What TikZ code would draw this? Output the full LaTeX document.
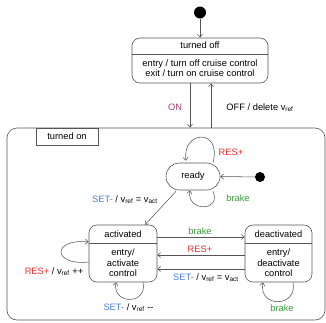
\documentclass[tikz,border=0pt]{standalone}
\usepackage{fontspec}
\setmainfont{Liberation Sans}
\usetikzlibrary{arrows.meta}
\definecolor{lineg}{HTML}{555555}
\definecolor{setblue}{HTML}{4A7FE6}
\definecolor{resred}{HTML}{F02828}
\definecolor{brakegreen}{HTML}{3A9A3A}
\definecolor{onpurple}{HTML}{A0407A}
\newcommand{\vsub}[1]{v\textsubscript{#1}}
\tikzset{
  every node/.style={font=\fontsize{9.3}{10.5}\selectfont, inner sep=0pt},
  statebox/.style={draw=lineg, line width=0.6pt, rounded corners=8pt, minimum width=#1},
  lbl/.style={text=black},
  arr/.style={draw=lineg, line width=0.55pt, -{Straight Barb[length=3pt,width=5pt]}},
  dot/.style={circle, fill=black, draw=none},
  divline/.style={draw=lineg, line width=0.6pt},
}
\begin{document}
\begin{tikzpicture}[x=1pt,y=-1pt]
\useasboundingbox (0,0) rectangle (326,322);
% initial
\node[dot, minimum size=12pt] (init1) at (200,12.5) {};
% turned off
\node[statebox=136pt, minimum height=45pt] (off) at (200,60.5) {};
\node (offtitle) at (200,45.5) {turned off};
\draw[divline] (off.west |- 0,54) -- (off.east |- 0,54);
\node (offbody) at (200,68) [align=center] {entry / turn off cruise control\\exit / turn on cruise control};
\draw[arr] (init1) -- (off.north);
% turned on
\node[draw=lineg, line width=0.6pt, rounded corners=10pt, minimum width=318pt, minimum height=192pt] (on) at (166,224) {};
\node[draw=lineg, line width=0.6pt, minimum width=62pt, minimum height=17pt] (tab) at (67,136.5) {turned on};
% ON / OFF
\draw[arr] ([xshift=-10pt]off.south) -- ([xshift=-10pt]off.south |- on.north);
\draw[arr] ([xshift=11pt]off.south |- on.north) -- ([xshift=11pt]off.south);
\node[text=onpurple] (onlbl) at (175,107.5) {ON};
\node (offlbl) at (260,107.5) {OFF / delete \vsub{ref}};
% ready
\node[draw=lineg, line width=0.6pt, rounded corners=13.5pt, minimum width=54pt, minimum height=27pt] (ready) at (193,176.5) {ready};
\node[dot, minimum size=10pt] (init2) at (260,177) {};
\draw[arr] (init2) -- (ready.east);
\draw[arr] ([xshift=20pt]ready.north) .. controls (222,128) and (182,130) .. ([xshift=-7pt,yshift=2pt]ready.north);
\node[text=resred] (rlbl1) at (231,152) {RES+};
\draw[arr] ([xshift=20pt,yshift=-1pt]ready.south) .. controls (222,212) and (186,212) .. ([xshift=-3pt]ready.south);
\node[text=brakegreen] (blbl1) at (238,198.5) {brake};
% activated
\node[statebox=68pt, minimum height=57pt] (act) at (123,253.5) {};
\node (acttitle) at (123,234.5) {activated};
\draw[divline] (act.west |- 0,243) -- (act.east |- 0,243);
\node[align=center] (actbody) at (123,263) {entry/\\activate\\control};
% deactivated
\node[statebox=67pt, minimum height=57pt] (deact) at (278.5,253.5) {};
\node (deacttitle) at (278.5,234.5) {deactivated};
\draw[divline] (deact.west |- 0,243) -- (deact.east |- 0,243);
\node[align=center] (deactbody) at (278.5,263) {entry/\\deactivate\\control};
% ready -> activated
\draw[arr] ([xshift=-17pt,yshift=-1pt]ready.south) -- ([xshift=22pt]act.north);
\node (setlbl1) at (125,199.5) {\textcolor{setblue}{SET-} / \vsub{ref} = \vsub{act}};
% between activated and deactivated
\draw[arr] (act.east |- 0,237) -- (deact.west |- 0,237);
\node[text=brakegreen] (blbl2) at (200,231) {brake};
\draw[arr] (deact.west |- 0,255) -- (act.east |- 0,255);
\node[text=resred] (rlbl2) at (200,249.5) {RES+};
\draw[arr] (deact.west |- 0,269) -- (act.east |- 0,269);
\node (setlbl2) at (206,277.5) {\textcolor{setblue}{SET-} / \vsub{ref} = \vsub{act}};
% activated self loops
\draw[arr] (act.west |- 0,262) .. controls (52,266) and (52,238) .. (act.west |- 0,242);
\node (rlbl3) at (54,271.5) {\textcolor{resred}{RES+} / \vsub{ref} ++};
\draw[arr] ([xshift=20pt]act.south) .. controls (148,305) and (112,305) .. ([xshift=-7pt]act.south);
\node (setlbl3) at (128.5,307.5) {\textcolor{setblue}{SET-} / \vsub{ref} -{}-};
% deactivated self loop
\draw[arr] ([xshift=14.5pt]deact.south) .. controls (298,308) and (258,308) .. ([xshift=-15.5pt]deact.south);
\node[text=brakegreen] (blbl3) at (282,308.5) {brake};
\end{tikzpicture}
\end{document}
